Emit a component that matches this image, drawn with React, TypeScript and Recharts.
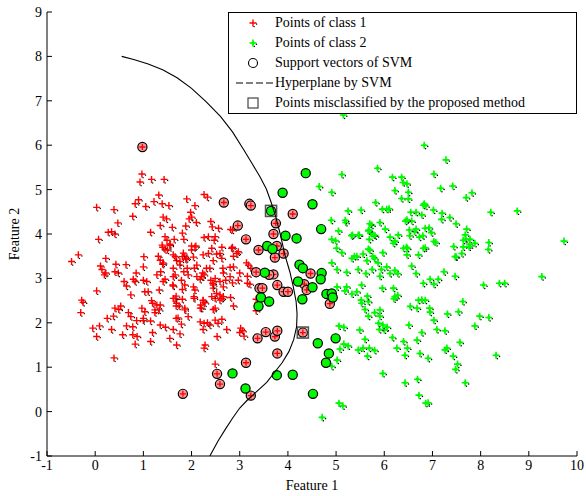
import { Scatter, ScatterChart, XAxis, YAxis } from "recharts"

type Pt = [number, number]

const RED = "#ff0000"
const GREEN = "#00f800"
const FONT = '"Liberation Serif", "Times New Roman", serif'

const xTicks = [-1, 0, 1, 2, 3, 4, 5, 6, 7, 8, 9, 10]
const yTicks = [-1, 0, 1, 2, 3, 4, 5, 6, 7, 8, 9]

const legendLabels = [
  "Points of class 1",
  "Points of class 2",
  "Support vectors of SVM",
  "Hyperplane by SVM",
  "Points misclassified by the proposed method",
]

const class1Points: Pt[] = [
  [0.97, 5.35], [0.93, 5.17], [1.17, 5.23], [1.43, 5.23], [0.03, 4.6], [0.39, 4.55], [0.47, 4.25],
  [0.27, 4.04], [0.41, 4.0], [0.34, 4.05], [0.07, 3.88], [0.78, 4.4], [0.83, 4.68], [0.9, 4.77],
  [1.05, 4.62], [1.22, 4.73], [1.32, 4.88], [1.39, 4.68], [1.53, 4.64], [1.15, 4.04], [1.35, 4.19],
  [1.41, 4.38], [1.48, 4.34], [1.6, 4.15], [1.45, 3.94], [1.49, 3.86], [1.39, 3.75], [1.55, 3.74],
  [1.64, 3.88], [1.9, 4.79], [2.07, 4.64], [1.98, 4.49], [1.95, 4.34], [2.0, 4.38], [2.1, 4.26],
  [1.88, 4.18], [1.81, 4.02], [1.84, 3.88], [2.0, 3.73], [2.09, 3.73], [2.26, 4.89], [2.33, 4.83],
  [2.26, 3.92], [2.4, 4.28], [2.43, 4.16], [2.56, 4.13], [2.35, 3.94], [2.49, 3.94], [2.47, 3.86],
  [2.81, 4.1], [2.85, 4.09], [2.63, 3.7], [2.85, 3.7],
  [-0.49, 3.38], [-0.35, 3.53], [-0.28, 2.51], [-0.25, 2.46], [-0.3, 2.23], [-0.05, 1.88], [0.03, 1.69],
  [0.09, 1.93], [0.03, 2.72], [0.11, 3.28], [0.14, 3.2], [0.19, 3.08], [0.22, 3.12], [0.22, 3.45],
  [0.43, 3.32], [0.48, 3.12], [0.41, 3.15], [0.34, 1.85], [0.25, 2.1], [0.38, 2.15], [0.41, 2.33],
  [0.49, 2.3], [0.53, 2.38], [0.57, 1.73], [0.39, 1.21], [0.64, 3.31], [0.6, 2.93], [0.65, 2.83],
  [0.74, 2.63], [0.69, 2.23], [0.74, 2.14], [0.65, 1.93], [0.78, 1.91], [0.86, 2.05], [0.78, 1.73],
  [0.87, 1.69], [0.83, 1.52], [0.85, 3.12], [0.79, 2.98], [0.83, 2.93], [1.0, 2.96], [1.07, 2.93],
  [1.03, 2.7], [1.1, 2.7], [1.0, 3.26], [1.01, 3.49], [0.97, 2.33], [1.03, 2.25], [1.0, 2.1],
  [1.0, 2.05], [1.15, 2.04], [1.15, 1.58], [1.19, 1.78], [1.17, 2.5], [1.19, 2.44], [1.24, 2.29],
  [1.24, 2.23], [1.28, 2.4], [1.33, 2.29], [1.35, 2.4], [1.33, 2.74], [1.45, 2.98], [1.41, 2.93],
  [1.28, 3.08], [1.36, 3.15], [1.4, 3.32], [1.31, 3.5], [1.35, 3.41], [1.41, 3.35], [1.45, 3.65],
  [1.4, 3.7], [1.5, 3.64], [1.55, 3.77], [1.35, 1.95], [1.46, 1.9], [1.55, 1.65], [1.69, 1.5],
  [1.61, 2.85], [1.62, 3.04], [1.62, 3.23], [1.62, 3.53], [1.69, 3.4], [1.81, 3.49], [1.86, 3.5],
  [1.9, 3.45], [1.76, 3.3], [1.84, 3.15], [1.91, 3.23], [1.79, 2.96], [1.86, 2.85], [1.81, 2.75],
  [1.68, 2.6], [1.62, 2.55], [1.69, 2.44], [1.74, 2.38], [1.81, 2.53], [1.72, 2.11], [1.79, 1.97],
  [1.62, 1.85], [1.76, 1.75], [1.86, 2.29], [1.93, 2.14], [2.05, 2.59], [2.04, 2.81], [2.04, 3.48],
  [2.07, 3.71], [2.0, 3.64], [2.06, 3.23], [2.11, 3.04], [2.18, 2.98], [2.23, 3.12], [2.26, 3.08],
  [2.31, 3.23], [2.24, 3.53], [2.35, 3.56], [2.42, 3.68], [2.19, 2.4], [2.21, 2.33], [2.24, 2.5],
  [2.18, 2.02], [2.26, 1.99], [2.24, 1.85], [2.28, 1.5], [2.26, 1.43], [2.38, 1.95], [2.33, 2.0],
  [2.49, 2.06], [2.55, 1.99], [2.63, 2.08], [2.53, 1.69], [2.73, 1.85], [2.45, 2.78], [2.52, 2.66],
  [2.59, 2.63], [2.49, 2.55], [2.49, 2.33], [2.59, 2.51], [2.66, 2.59], [2.81, 2.57], [2.87, 2.38],
  [2.4, 2.96], [2.45, 2.85], [2.59, 2.93], [2.66, 3.12], [2.71, 2.96], [2.8, 3.25], [2.87, 3.26],
  [2.8, 3.04], [3.0, 3.12], [2.97, 2.96], [3.16, 3.05], [3.16, 2.89], [2.87, 3.5], [2.94, 3.56],
  [2.83, 3.68], [2.97, 3.6], [2.59, 3.56], [2.63, 3.45], [2.45, 3.4], [3.14, 3.35], [3.23, 3.23],
  [3.02, 1.88], [3.06, 1.82], [3.0, 1.78], [3.09, 1.7], [3.34, 2.53], [3.37, 2.44], [3.34, 2.27],
  [2.49, 1.07], [1.83, 3.57], [1.66, 3.49], [1.88, 3.43], [1.76, 3.38], [2.52, 3.55], [2.11, 3.3],
  [2.38, 3.23], [2.65, 3.23], [3.18, 3.3], [1.66, 3.08], [1.93, 3.08], [2.21, 3.04], [2.49, 3.0],
  [2.85, 2.9], [3.21, 2.87], [1.62, 2.83], [2.07, 2.74], [2.44, 2.89], [2.66, 2.81], [1.66, 2.55],
  [2.05, 2.55], [2.24, 2.51], [2.42, 2.59], [2.63, 2.55], [1.68, 2.38], [1.86, 2.33], [2.18, 2.33],
  [2.28, 2.45], [2.45, 2.3], [1.68, 2.1],
]

const class2Points: Pt[] = [
  [5.15, 6.68], [6.83, 6.0], [7.28, 5.67], [5.86, 5.48], [5.12, 5.34], [7.03, 5.35], [6.17, 5.28],
  [6.36, 5.28], [6.39, 5.16], [6.47, 5.13], [4.65, 5.07], [4.91, 4.94], [6.22, 4.98], [6.5, 4.94],
  [7.17, 5.03], [7.42, 5.08], [7.82, 4.93], [7.7, 4.82], [6.36, 4.8], [6.5, 4.79], [5.82, 4.71],
  [5.25, 4.52], [5.52, 4.54], [5.96, 4.56], [6.05, 4.56], [6.1, 4.57], [6.81, 4.65], [6.83, 4.68],
  [6.86, 4.63], [7.02, 4.54], [6.55, 4.49], [6.66, 4.49], [6.78, 4.43], [7.2, 4.47], [7.19, 4.33],
  [7.36, 4.37], [7.49, 4.23], [8.21, 4.49], [8.76, 4.52], [4.9, 4.31], [5.2, 4.26], [5.19, 4.31],
  [5.05, 4.07], [5.68, 4.09], [5.91, 4.26], [6.02, 4.11], [5.74, 4.2], [5.7, 4.23], [6.44, 4.29],
  [6.57, 4.29], [6.47, 4.32], [6.85, 4.13], [6.93, 4.14], [6.63, 4.05], [6.52, 4.09], [6.66, 4.11],
  [7.71, 4.11], [7.68, 3.98], [9.73, 3.84], [5.34, 3.98], [5.46, 3.98], [5.32, 3.96], [5.48, 3.98],
  [5.72, 4.02], [5.67, 4.07], [5.81, 3.96], [4.91, 3.88], [4.99, 3.85], [5.69, 3.88], [5.78, 3.98],
  [6.12, 3.93], [6.29, 3.98], [6.22, 3.84], [6.19, 3.79], [6.46, 3.7], [6.53, 3.96], [6.73, 3.93],
  [6.98, 4.03], [6.8, 3.96], [7.03, 3.83], [7.07, 3.81], [6.85, 3.69], [7.69, 3.88], [7.78, 3.88],
  [7.64, 3.86], [7.77, 3.76], [7.88, 3.79], [7.76, 3.71], [8.17, 3.81], [8.16, 3.65], [7.44, 3.72],
  [7.61, 3.56], [7.49, 3.49], [5.01, 3.68], [5.12, 3.58], [5.38, 3.5], [5.67, 3.66], [5.76, 3.5],
  [5.97, 3.58], [6.4, 3.68], [6.47, 3.53], [6.81, 3.68], [6.71, 3.53],
  [4.91, 3.35], [5.02, 3.2], [5.22, 3.14], [5.46, 3.2], [5.33, 3.45], [5.43, 3.5], [5.56, 3.55],
  [5.7, 3.64], [5.8, 3.45], [5.87, 3.35], [5.64, 3.4], [5.62, 3.11], [5.75, 3.2], [5.94, 3.2],
  [5.91, 3.05], [6.05, 3.26], [6.12, 3.11], [6.22, 3.18], [6.28, 3.11], [6.48, 3.68], [6.57, 3.28],
  [6.66, 3.11], [6.81, 2.89], [6.95, 2.98], [7.03, 2.87], [7.12, 2.98], [7.24, 3.15], [7.47, 3.05],
  [7.47, 3.49], [7.64, 3.71], [8.06, 2.85], [8.39, 2.89], [8.5, 2.89], [9.27, 3.04], [5.02, 2.81],
  [5.22, 2.81], [5.18, 2.72], [5.33, 2.65], [5.43, 2.7], [5.53, 2.85], [5.52, 2.51], [5.67, 2.48],
  [5.53, 2.44], [5.65, 2.6], [5.6, 2.3], [5.67, 2.15], [5.8, 2.23], [5.91, 2.29], [5.91, 2.15],
  [5.96, 2.78], [6.19, 2.78], [6.22, 2.59], [6.2, 2.54], [6.28, 2.62], [6.54, 2.37], [6.68, 2.33],
  [6.71, 2.51], [6.78, 2.52], [6.85, 2.51], [6.94, 2.33], [6.95, 2.24], [7.03, 2.06], [7.09, 1.85],
  [7.31, 2.2], [7.54, 2.25], [7.63, 2.48], [7.98, 2.15], [8.17, 2.12], [7.88, 1.93], [7.26, 1.82],
  [6.78, 1.78], [6.68, 1.61], [6.51, 1.95], [6.17, 1.67], [6.0, 1.84], [5.9, 1.85], [5.88, 1.99],
  [5.97, 1.95], [6.06, 1.9], [6.26, 1.43], [6.4, 1.58], [6.48, 1.43], [6.43, 1.27], [6.74, 1.31],
  [6.91, 1.2], [7.26, 1.39], [7.3, 1.43], [7.57, 1.56], [7.43, 1.25], [7.52, 1.07], [7.48, 0.95],
  [8.32, 1.27], [7.68, 0.65], [6.69, 0.73], [6.43, 0.65], [6.72, 0.37], [6.86, 0.19], [6.91, 0.2],
  [5.97, 0.86], [5.06, 0.19], [5.14, 0.13], [4.71, -0.13], [4.91, 1.02], [5.02, 1.16], [5.08, 1.41],
  [5.16, 1.52], [5.25, 1.48], [5.06, 1.93], [5.16, 1.9], [5.46, 1.39], [5.56, 1.43], [5.49, 1.84],
  [5.6, 1.63], [5.65, 1.25], [5.69, 1.43], [5.8, 1.38],
]

// support vectors, split by class
const class1Support: Pt[] = [
  [0.98, 5.96], [1.82, 0.4], [2.53, 0.85], [2.59, 0.62], [3.13, 1.1], [3.23, 0.36], [3.37, 1.65],
  [3.54, 1.79], [3.73, 1.69], [3.78, 1.82], [3.78, 1.31], [3.34, 3.14], [3.41, 2.78], [3.47, 2.78],
  [3.7, 3.09], [3.61, 3.08], [3.78, 2.85], [3.91, 2.7], [4.0, 2.7], [3.73, 3.47], [3.77, 3.73],
  [3.91, 3.56], [3.39, 3.64], [2.67, 4.71], [3.2, 4.68], [3.23, 4.64], [2.96, 4.19], [3.13, 3.88],
  [3.75, 4.24], [3.7, 4.0], [4.1, 4.45], [4.47, 3.11], [4.34, 2.87], [4.39, 2.74], [4.87, 2.43],
  [4.31, 1.78],
]

const class2Support: Pt[] = [
  [3.65, 4.52], [3.89, 4.93], [4.37, 5.37], [4.51, 4.67], [3.95, 3.96], [4.18, 3.9], [4.69, 4.11],
  [3.57, 3.73], [3.68, 3.66], [3.52, 3.13], [4.24, 3.31], [4.31, 3.23], [4.7, 3.12], [4.68, 2.98],
  [4.21, 2.93], [4.51, 2.8], [4.3, 2.53], [4.8, 2.65], [4.91, 2.66], [4.93, 2.57], [3.44, 2.57],
  [3.61, 2.48], [3.39, 2.37], [2.85, 0.86], [3.12, 0.52], [3.77, 0.82], [4.1, 0.83], [4.52, 0.4],
  [4.79, 1.1], [4.85, 1.31], [4.62, 1.54], [4.99, 1.65],
]

const misclassified: Pt[] = [[3.65, 4.52], [4.31, 1.78]]

const hyperplane: Pt[] = [
  [0.55, 8.0], [0.8, 7.93], [1.1, 7.83], [1.4, 7.7], [1.7, 7.52], [2.0, 7.28], [2.3, 6.98],
  [2.6, 6.65], [2.85, 6.3], [3.07, 5.92], [3.25, 5.6], [3.42, 5.29], [3.55, 5.02], [3.65, 4.72],
  [3.75, 4.38], [3.84, 4.0], [3.94, 3.52], [4.04, 3.15], [4.11, 2.82], [4.17, 2.48], [4.19, 2.2],
  [4.18, 1.91], [4.12, 1.62], [4.02, 1.35], [3.88, 1.1], [3.72, 0.88], [3.56, 0.66], [3.35, 0.45],
  [3.15, 0.25], [3.0, 0.08], [2.85, -0.15], [2.7, -0.4], [2.55, -0.66], [2.38, -1.0],
]

const toXY = (pts: Pt[]) => pts.map(([x, y]) => ({ x, y }))

type MarkProps = { cx?: number; cy?: number }

function redPlus(cx: number, cy: number, s = 3.5) {
  return (
    <>
      <rect x={cx + s - 0.5} y={cy + 0.5} width={1.2} height={1.2} fill="#000" />
      <rect x={cx + 0.5} y={cy + s - 0.5} width={1.2} height={1.2} fill="#000" />
      <path d={`M${cx - s},${cy}h${2 * s}M${cx},${cy - s}v${2 * s}`} stroke={RED} strokeWidth={1.4} />
    </>
  )
}

function greenStar(cx: number, cy: number) {
  return (
    <>
      <rect x={cx + 2.8} y={cy + 0.6} width={1.3} height={1.3} fill="#000" />
      <rect x={cx + 0.6} y={cy + 2.8} width={1.3} height={1.3} fill="#000" />
      <path d={`M${cx - 3.5},${cy}h7M${cx},${cy - 3.5}v7`} stroke={GREEN} strokeWidth={1.6} />
      <circle cx={cx} cy={cy} r={1.7} fill={GREEN} />
    </>
  )
}

function Class1Mark({ cx, cy }: MarkProps) {
  if (cx == null || cy == null) return <g />
  return <g>{redPlus(cx, cy)}</g>
}

function Class2Mark({ cx, cy }: MarkProps) {
  if (cx == null || cy == null) return <g />
  return <g>{greenStar(cx, cy)}</g>
}

function Support1Mark({ cx, cy }: MarkProps) {
  if (cx == null || cy == null) return <g />
  return (
    <g>
      <circle cx={cx} cy={cy} r={4.6} fill="#f59a9a" stroke="#000" strokeWidth={1.2} />
      <path d={`M${cx - 3},${cy}h6M${cx},${cy - 3}v6`} stroke={RED} strokeWidth={1.3} />
    </g>
  )
}

function Support2Mark({ cx, cy }: MarkProps) {
  if (cx == null || cy == null) return <g />
  return <circle cx={cx} cy={cy} r={4.6} fill={GREEN} stroke="#000" strokeWidth={1.2} />
}

function SquareMark({ cx, cy }: MarkProps) {
  if (cx == null || cy == null) return <g />
  return <rect x={cx - 5.5} y={cy - 5.5} width={11} height={11} fill="none" stroke="#555" strokeWidth={1.6} />
}

function NoMark() {
  return <g />
}

type TickProps = { x?: number; y?: number; payload?: { value: number } }

function BottomTick({ x, y, payload }: TickProps) {
  return (
    <text x={x} y={y} dy="0.71em" textAnchor="middle" fill="#000" fontSize={14} fontFamily={FONT}>
      {payload?.value}
    </text>
  )
}

function LeftTick({ x, y, payload }: TickProps) {
  return (
    <text x={x} y={y} dy="0.36em" textAnchor="end" fill="#000" fontSize={14} fontFamily={FONT}>
      {payload?.value}
    </text>
  )
}

function legendIcon(i: number) {
  const cx = 24
  const cy = 10
  if (i === 0) return redPlus(cx, cy)
  if (i === 1) return greenStar(cx, cy)
  if (i === 2) return <circle cx={cx} cy={cy} r={4.5} fill="none" stroke="#000" strokeWidth={1.1} />
  if (i === 3)
    return <line x1={7} y1={cy} x2={44} y2={cy} stroke="#000" strokeWidth={1.2} strokeDasharray="7 3" />
  return <rect x={cx - 5} y={cy - 5} width={10} height={10} fill="none" stroke="#444" strokeWidth={1.2} />
}

const labelStyle = { fill: "#000", fontSize: 14, fontFamily: FONT }

export default function App() {
  return (
    <div style={{ position: "absolute", left: 0, top: 0, width: 586, height: 496, background: "#fff" }}>
      <ScatterChart width={586} height={496} margin={{ top: 12, right: 9, bottom: 0, left: 0 }}>
        <XAxis
          type="number"
          dataKey="x"
          domain={[-1, 10]}
          ticks={xTicks}
          allowDataOverflow
          height={40}
          stroke="#000"
          tick={<BottomTick />}
          tickSize={-5}
          tickMargin={9}
          label={{ value: "Feature 1", position: "insideBottom", offset: 6, style: labelStyle }}
        />
        <XAxis
          xAxisId="top"
          orientation="top"
          type="number"
          domain={[-1, 10]}
          ticks={xTicks}
          allowDataOverflow
          height={0}
          stroke="#000"
          tick={false}
          tickSize={-5}
        />
        <YAxis
          type="number"
          dataKey="y"
          domain={[-1, 9]}
          ticks={yTicks}
          allowDataOverflow
          width={47}
          stroke="#000"
          tick={<LeftTick />}
          tickSize={-5}
          tickMargin={10}
          label={{
            value: "Feature 2",
            angle: -90,
            position: "insideLeft",
            offset: 14,
            style: { ...labelStyle, textAnchor: "middle" },
          }}
        />
        <YAxis
          yAxisId="right"
          orientation="right"
          type="number"
          domain={[-1, 9]}
          ticks={yTicks}
          allowDataOverflow
          width={0}
          stroke="#000"
          tick={false}
          tickSize={-5}
        />
        <Scatter data={toXY(class1Points)} shape={Class1Mark} isAnimationActive={false} />
        <Scatter data={toXY(class2Points)} shape={Class2Mark} isAnimationActive={false} />
        <Scatter data={toXY(class1Support)} shape={Support1Mark} isAnimationActive={false} />
        <Scatter data={toXY(class2Support)} shape={Support2Mark} isAnimationActive={false} />
        <Scatter data={toXY(misclassified)} shape={SquareMark} isAnimationActive={false} />
        <Scatter
          data={toXY(hyperplane)}
          shape={NoMark}
          line={{ stroke: "#000", strokeWidth: 1.1 }}
          lineType="joint"
          isAnimationActive={false}
        />
      </ScatterChart>
      <div
        style={{
          position: "absolute",
          left: 228,
          top: 12,
          width: 349,
          height: 102,
          boxSizing: "border-box",
          border: "1px solid #000",
          background: "#fff",
          fontFamily: FONT,
          fontSize: 14,
          color: "#000",
        }}
      >
        {legendLabels.map((label, i) => (
          <div
            key={label}
            style={{ position: "absolute", left: 0, top: i * 20, height: 20, display: "flex", alignItems: "center", whiteSpace: "nowrap" }}
          >
            <svg width={46} height={20} style={{ display: "block" }}>
              {legendIcon(i)}
            </svg>
            <span>{label}</span>
          </div>
        ))}
      </div>
    </div>
  )
}
